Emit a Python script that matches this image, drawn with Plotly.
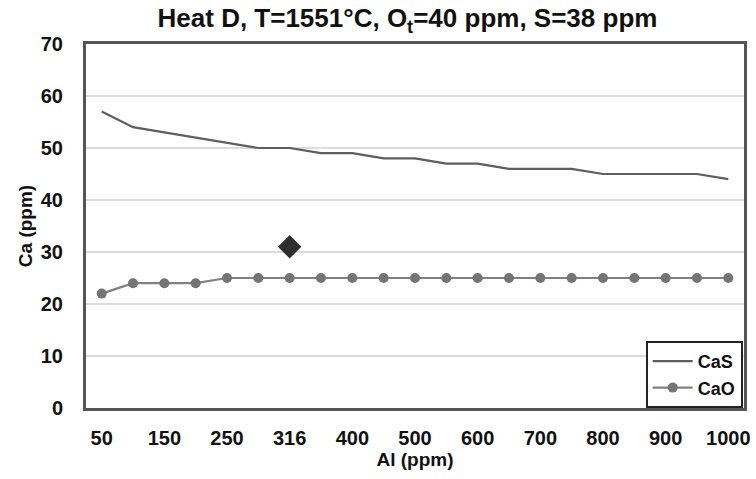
import plotly.graph_objects as go

al_ppm = ["50", "100", "150", "200", "250", "300", "316", "350", "400", "450", "500",
          "550", "600", "650", "700", "750", "800", "850", "900", "950", "1000"]
cas = [57, 54, 53, 52, 51, 50, 50, 49, 49, 48, 48, 47, 47, 46, 46, 46, 45, 45, 45, 45, 44]
cao = [22, 24, 24, 24, 25, 25, 25, 25, 25, 25, 25, 25, 25, 25, 25, 25, 25, 25, 25, 25, 25]
measured_x = ["316"]
measured_ca = [31]
tick_labels = al_ppm[::2]
y_ticks = [0, 10, 20, 30, 40, 50, 60, 70]

FONT = "Liberation Sans, Arial, sans-serif"
TXT = "#111111"

fig = go.Figure()
fig.add_trace(go.Scatter(x=al_ppm, y=cas, mode="lines", name="<b>CaS</b>",
                         line=dict(color="#5e5e5e", width=2.2)))
fig.add_trace(go.Scatter(x=al_ppm, y=cao, mode="lines+markers", name="<b>CaO</b>",
                         line=dict(color="#808080", width=2.2),
                         marker=dict(color="#747474", size=10)))
fig.add_trace(go.Scatter(x=measured_x, y=measured_ca, mode="markers", showlegend=False,
                         marker=dict(symbol="diamond", color="#2e2e2e", size=18)))

fig.update_layout(
    width=756, height=479,
    margin=dict(l=86, r=12, t=44, b=71, autoexpand=False),
    paper_bgcolor="white", plot_bgcolor="white",
    font=dict(family=FONT, color=TXT),
    title=dict(text="<b>Heat D, T=1551°C, O<sub>t</sub>=40 ppm, S=38 ppm</b>",
               x=0.539, xanchor="center", y=0.962, yanchor="middle",
               font=dict(size=26, family=FONT, color=TXT)),
    xaxis=dict(type="category", categoryorder="array", categoryarray=al_ppm,
               range=[-0.5, len(al_ppm) - 0.5], automargin=False,
               tickmode="array", tickvals=tick_labels, ticktext=["<b>%s</b>" % t for t in tick_labels],
               tickfont=dict(size=20, family=FONT, color=TXT),
               showgrid=False, showline=True, linecolor="#555555", linewidth=3, mirror=True,
               ticks="", ticklabelstandoff=10,
               title=dict(text="<b>Al (ppm)</b>", font=dict(size=19, family=FONT, color=TXT),
                          standoff=4)),
    yaxis=dict(range=[0, 70], tickmode="array", tickvals=y_ticks, automargin=False,
               ticktext=["<b>%d</b>" % v for v in y_ticks],
               tickfont=dict(size=20, family=FONT, color=TXT),
               showgrid=True, gridcolor="#dcdcdc", gridwidth=1.5,
               showline=True, linecolor="#555555", linewidth=3, mirror=True,
               ticks="", ticklabelstandoff=16, zeroline=False,
               title=dict(text="<b>Ca (ppm)</b>", font=dict(size=19, family=FONT, color=TXT),
                          standoff=4)),
    legend=dict(x=0.998, y=0.0, xanchor="right", yanchor="bottom",
                bgcolor="white", bordercolor="#222222", borderwidth=2,
                font=dict(size=18, family=FONT, color=TXT),
                itemwidth=40, tracegroupgap=4),
    showlegend=True,
)

fig.write_html("out.html")
